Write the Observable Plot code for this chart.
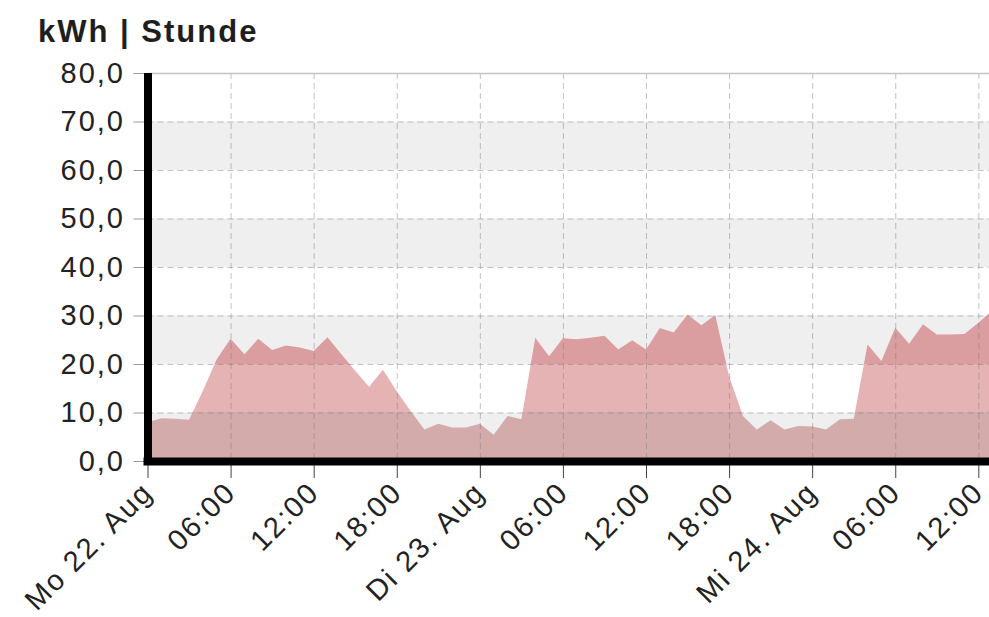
<!DOCTYPE html>
<html><head><meta charset="utf-8">
<script src="https://cdn.jsdelivr.net/npm/d3@7"></script>
<script src="https://cdn.jsdelivr.net/npm/@observablehq/plot@0.6"></script>
<style>
html,body{margin:0;padding:0;background:#fff;}
#wrap{position:relative;width:989px;height:617px;overflow:hidden;}
#title{position:absolute;left:38px;top:16px;font:bold 31px 'Liberation Sans',Arial,sans-serif;letter-spacing:2px;color:#1e1e1e;line-height:1;white-space:nowrap;}
</style></head><body>
<div id="wrap"><div id="title">kWh | Stunde</div></div>
<script>
// Hourly consumption from Mo 22. Aug 00:00 onward (kWh per hour)
const startUTC = Date.UTC(2022, 7, 22, 0);
const hourlyKWh = [
  8.0, 8.8, 8.7, 8.5, 14.5, 21.0, 25.2, 22.0, 25.2, 22.9, 23.8, 23.4,
  22.7, 25.5, 22.0, 18.6, 15.3, 18.8, 14.4, 10.3, 6.5, 7.7, 6.9, 6.9,
  7.7, 5.4, 9.3, 8.6, 25.4, 21.6, 25.3, 25.1, 25.4, 25.8, 23.0, 24.9,
  23.0, 27.4, 26.5, 30.2, 28.0, 30.1, 17.5, 9.3, 6.5, 8.4, 6.5, 7.2,
  7.1, 6.5, 8.6, 8.7, 24.0, 20.6, 27.5, 24.2, 28.2, 26.1, 26.1, 26.2,
  28.5, 31.0
];
const tickHours = [0, 6, 12, 18, 24, 30, 36, 42, 48, 54, 60];
const tickLabels = ["Mo 22. Aug", "06:00", "12:00", "18:00", "Di 23. Aug", "06:00", "12:00", "18:00", "Mi 24. Aug", "06:00", "12:00"];
const yTicks = [0, 10, 20, 30, 40, 50, 60, 70, 80];
const yGrid = [10, 20, 30, 40, 50, 60, 70];
const bandLow = [0, 20, 40, 60];
const bandHigh = [10, 30, 50, 70];
const areaBandColors = ["#d4abab", "#e6b3b5", "#da9da0", "#e2a6a9"];
const visibleHours = 60.77;

const HOUR = 3600e3;
const data = hourlyKWh.map((v, i) => ({date: new Date(startUTC + i * HOUR), kwh: v}));
const tickDates = tickHours.map(h => new Date(startUTC + h * HOUR));
const labelMap = new Map(tickDates.map((d, i) => [+d, tickLabels[i]]));
const bands = bandLow.map((lo, i) => ({lo, hi: bandHigh[i]}));
const fmtY = d => d3.format(".1f")(d).replace(".", ",");

const plot = Plot.plot({
  width: 989, height: 617,
  marginLeft: 147.5, marginRight: 0, marginTop: 73, marginBottom: 156,
  x: {type: "utc", domain: [new Date(startUTC), new Date(startUTC + visibleHours * HOUR)]},
  y: {domain: [0, 80]},
  style: {fontFamily: "'Liberation Sans', Arial, sans-serif", fontSize: "29px", color: "#222", background: "white", overflow: "hidden"},
  marks: [
    Plot.rect(bands, {y1: "lo", y2: "hi", fill: "#efefef"}),
    Plot.areaY(data, {x: "date", y: "kwh", fill: "url(#kwhGrad)", clip: true}),
    Plot.gridY(yGrid, {stroke: "#777", strokeOpacity: 0.45, strokeDasharray: "6,4"}),
    Plot.gridX(tickDates, {stroke: "#777", strokeOpacity: 0.45, strokeDasharray: "6,4"}),
    Plot.ruleY([80], {stroke: "#c4c4c4", strokeWidth: 1.5}),
    Plot.axisY(yTicks, {tickSize: 14, tickPadding: 9, tickFormat: fmtY, stroke: "#999", fill: "#222", label: null}),
    Plot.axisX(tickDates, {tickSize: 17, tickPadding: 9, tickRotate: -45, tickFormat: d => labelMap.get(+d), stroke: "#444", fill: "#222", label: null}),
    Plot.ruleX([tickDates[0]], {stroke: "#000", strokeWidth: 8, insetBottom: -4}),
    Plot.ruleY([0], {stroke: "#000", strokeWidth: 8, insetLeft: -4})
  ]
});
plot.style.letterSpacing = "2px";

// gradient with hard stops matching the banded fill
const ys = plot.scale("y");
const ns = "http://www.w3.org/2000/svg";
const defs = document.createElementNS(ns, "defs");
const grad = document.createElementNS(ns, "linearGradient");
grad.setAttribute("id", "kwhGrad");
grad.setAttribute("gradientUnits", "userSpaceOnUse");
grad.setAttribute("x1", 0); grad.setAttribute("x2", 0);
grad.setAttribute("y1", ys.apply(0)); grad.setAttribute("y2", ys.apply(40));
areaBandColors.forEach((c, i) => {
  [i / 4, (i + 1) / 4].forEach(off => {
    const s = document.createElementNS(ns, "stop");
    s.setAttribute("offset", off);
    s.setAttribute("stop-color", c);
    grad.appendChild(s);
  });
});
defs.appendChild(grad);
plot.insertBefore(defs, plot.firstChild);
document.getElementById("wrap").appendChild(plot);
</script>
</body></html>
